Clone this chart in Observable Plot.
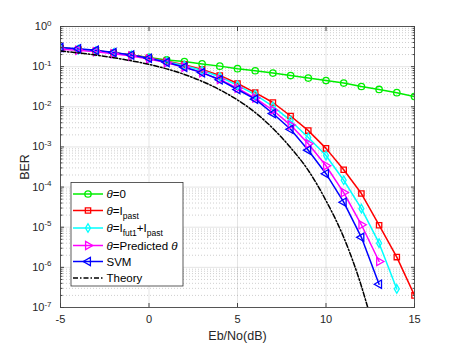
<!DOCTYPE html>
<html><head><meta charset="utf-8">
<script src="https://cdn.jsdelivr.net/npm/d3@7"></script>
<script src="https://cdn.jsdelivr.net/npm/@observablehq/plot@0.6"></script>
<style>
body{margin:0;background:#fff}
svg{font-family:"Liberation Sans",Arial,sans-serif}
</style>
</head><body><div id="chart"></div>
<script>
// ---- data ----
const snr = [-5,-4,-3,-2,-1,0,1,2,3,4,5,6,7,8,9,10,11,12,13,14,15];
const berZero = [0.29,0.27,0.245,0.222,0.196,0.17,0.147,0.134,0.117,0.103,0.089,0.079,0.069,0.060,0.052,0.045,0.039,0.032,0.027,0.0225,0.018];
const berPast = [0.29,0.27,0.248,0.222,0.195,0.166,0.137,0.112,0.085,0.060,0.038,0.0225,0.0128,0.0059,0.00255,0.00092,0.00027,0.000069,0.0000112,0.0000018,0.0000002];
const berFut = [0.285,0.265,0.243,0.218,0.19,0.162,0.133,0.107,0.080,0.056,0.034,0.020,0.0102,0.0045,0.00172,0.00061,0.000148,0.000029,0.000004,0.00000029];
const berPred = [0.27,0.255,0.235,0.21,0.183,0.155,0.125,0.097,0.071,0.048,0.029,0.0165,0.0082,0.0035,0.0012,0.00034,0.000073,0.0000115,0.0000014];
const berSvm = [0.30,0.28,0.255,0.225,0.195,0.162,0.128,0.097,0.071,0.047,0.027,0.0155,0.0068,0.00275,0.00083,0.000215,0.000042,0.0000056,0.00000038];
const theorySnr = [-5,-4,-3,-2,-1,0,1,2,3,4,5,6,7,8,9,10,11,12,12.5];
const theoryBer = [0.245,0.22,0.194,0.167,0.14,0.114,0.088,0.064,0.043,0.0265,0.0148,0.0072,0.0029,0.00096,0.00026,0.000046,0.0000056,0.00000034,0.00000006];

const xTicks = [-5,0,5,10,15];
const yTicks = [1e-7,1e-6,1e-5,1e-4,1e-3,1e-2,1e-1,1];
const yMinor = [];
for (let k = -7; k < 0; k++) for (let m = 2; m <= 9; m++) yMinor.push(m * Math.pow(10, k));

const xLabel = "Eb/No(dB)";
const yLabel = "BER";

// custom triangle symbols (pointing right / left)
function triangle(dir) {
  return {draw(ctx, size) {
    const s = Math.sqrt(size / (Math.sqrt(3) / 4));
    const h = s * Math.sqrt(3) / 2;
    ctx.moveTo(dir * h * 2 / 3, 0);
    ctx.lineTo(-dir * h / 3, -s / 2);
    ctx.lineTo(-dir * h / 3, s / 2);
    ctx.closePath();
  }};
}
const triRight = triangle(1), triLeft = triangle(-1);

const series = [
  {x: snr, y: berZero, color: "#00ee00", symbol: "circle", r: 3.2},
  {x: snr, y: berPast, color: "#ff0000", symbol: "square", r: 3.0},
  {x: snr, y: berFut, color: "#00ffff", symbol: "diamond", r: 2.6},
  {x: snr, y: berPred, color: "#ff00ff", symbol: triRight, r: 3.1},
  {x: snr, y: berSvm, color: "#0000ff", symbol: triLeft, r: 3.1}
];
const rows = s => s.y.map((v, i) => ({x: s.x[i], y: v}));
const theoryRows = theoryBer.map((v, i) => ({x: theorySnr[i], y: v}));

const marks = [
  Plot.gridY(yMinor, {stroke: "#262626", strokeOpacity: 0.22, strokeDasharray: "1,2"}),
  Plot.gridY(yTicks, {stroke: "#262626", strokeOpacity: 0.12}),
  Plot.gridX(xTicks, {stroke: "#262626", strokeOpacity: 0.12}),
];
for (const s of series) {
  marks.push(Plot.line(rows(s), {x: "x", y: "y", stroke: s.color, strokeWidth: 1.5, clip: true}));
}
for (const s of series) {
  marks.push(Plot.dot(rows(s), {x: "x", y: "y", stroke: s.color, fill: "none", symbol: s.symbol, r: s.r, strokeWidth: 1.3, clip: true}));
}
marks.push(Plot.line(theoryRows, {x: "x", y: "y", curve: "monotone-x", stroke: "#000", strokeWidth: 1.5, strokeDasharray: "5,2,1.5,2", clip: true}));
marks.push(Plot.frame({stroke: "#555", strokeWidth: 1}));
// inward ticks
marks.push(Plot.axisX(xTicks, {anchor: "bottom", tickSize: -4, tickFormat: () => "", label: null, stroke: "#444"}));
marks.push(Plot.axisX(xTicks, {anchor: "top", tickSize: -4, tickFormat: () => "", label: null, stroke: "#444"}));
marks.push(Plot.axisY(yTicks, {anchor: "left", tickSize: -4, tickFormat: () => "", label: null, stroke: "#444"}));
marks.push(Plot.axisY(yTicks, {anchor: "right", tickSize: -4, tickFormat: () => "", label: null, stroke: "#444"}));
marks.push(Plot.axisY(yMinor, {anchor: "left", tickSize: -2.5, tickFormat: () => "", label: null, stroke: "#444"}));
marks.push(Plot.axisY(yMinor, {anchor: "right", tickSize: -2.5, tickFormat: () => "", label: null, stroke: "#444"}));
// labels
marks.push(Plot.axisX(xTicks, {anchor: "bottom", tickSize: 0, tickPadding: 8, tickFormat: d => String(d), fontSize: 11, fill: "#262626",
  label: xLabel, labelAnchor: "center", labelArrow: "none", labelOffset: 32}));
marks.push(Plot.axisY(yTicks, {anchor: "left", tickSize: 0, tickPadding: 9, tickFormat: d => "10^" + Math.round(Math.log10(d)), fontSize: 11, fill: "#262626",
  label: yLabel, labelAnchor: "center", labelArrow: "none", labelOffset: 40}));

const svg = Plot.plot({
  width: 457, height: 346,
  marginLeft: 60, marginRight: 43, marginTop: 26, marginBottom: 39,
  style: {fontFamily: '"Liberation Sans", Arial, sans-serif', fontSize: "11px", background: "#fff", color: "#262626"},
  x: {domain: [-5, 15]},
  y: {type: "log", domain: [1e-7, 1]},
  marks
});
document.getElementById("chart").appendChild(svg);

const root = d3.select(svg);
// superscript exponents on y tick labels
root.selectAll('g[aria-label="y-axis tick label"] text').each(function () {
  const t = this.textContent;
  if (!t.includes("^")) return;
  const [b, e] = t.split("^");
  const sel = d3.select(this);
  sel.text(null);
  sel.append("tspan").text(b);
  sel.append("tspan").attr("dy", "-0.55em").attr("font-size", "8px").text(e);
});
root.selectAll('g[aria-label="x-axis label"] text, g[aria-label="y-axis label"] text').attr("font-size", "12.5px").attr("fill", "#262626");

// legend
const legendItems = [
  {parts: [["θ", "i"], ["=0", ""]], s: series[0]},
  {parts: [["θ", "i"], ["=I", ""], ["past", "sub"]], s: series[1]},
  {parts: [["θ", "i"], ["=I", ""], ["fut1", "sub"], ["+I", "up"], ["past", "sub"]], s: series[2]},
  {parts: [["θ", "i"], ["=Predicted ", ""], ["θ", "i"]], s: series[3]},
  {parts: [["SVM", ""]], s: series[4]},
  {parts: [["Theory", ""]], s: null}
];
const rowY = [194, 210.5, 228, 245.5, 261.5, 278];
const lg = root.append("g").attr("font-size", "11.5px").attr("text-anchor", "start");
lg.append("rect").attr("x", 71).attr("y", 182.5).attr("width", 112).attr("height", 103.5)
  .attr("fill", "#fff").attr("stroke", "#333").attr("stroke-width", 0.8);
legendItems.forEach((it, i) => {
  const y = rowY[i];
  const g = lg.append("g");
  if (it.s) {
    g.append("line").attr("x1", 73).attr("x2", 103).attr("y1", y).attr("y2", y).attr("stroke", it.s.color).attr("stroke-width", 1.5);
    const size = Math.PI * it.s.r * it.s.r;
    const type = it.s.symbol === "circle" ? d3.symbolCircle : it.s.symbol === "square" ? d3.symbolSquare : it.s.symbol === "diamond" ? d3.symbolDiamond : it.s.symbol;
    g.append("path").attr("d", d3.symbol(type, size)()).attr("transform", `translate(88,${y})`)
      .attr("fill", "none").attr("stroke", it.s.color).attr("stroke-width", 1.3);
  } else {
    g.append("line").attr("x1", 73).attr("x2", 103).attr("y1", y).attr("y2", y).attr("stroke", "#000").attr("stroke-width", 1.5).attr("stroke-dasharray", "5,2,1.5,2");
  }
  const t = g.append("text").attr("x", 106.5).attr("y", y).attr("dy", "0.35em").attr("fill", "#000").attr("text-anchor", "start");
  let shifted = 0;
  for (const [txt, kind] of it.parts) {
    const sp = t.append("tspan").text(txt);
    if (kind === "i") sp.attr("font-style", "italic");
    if (kind === "sub") { sp.attr("dy", shifted === 0 ? 4 : 0).attr("font-size", "8.5px"); shifted = 4; }
    if (kind === "up") { sp.attr("dy", -4); shifted = 0; }
  }
});
</script>
</body></html>
